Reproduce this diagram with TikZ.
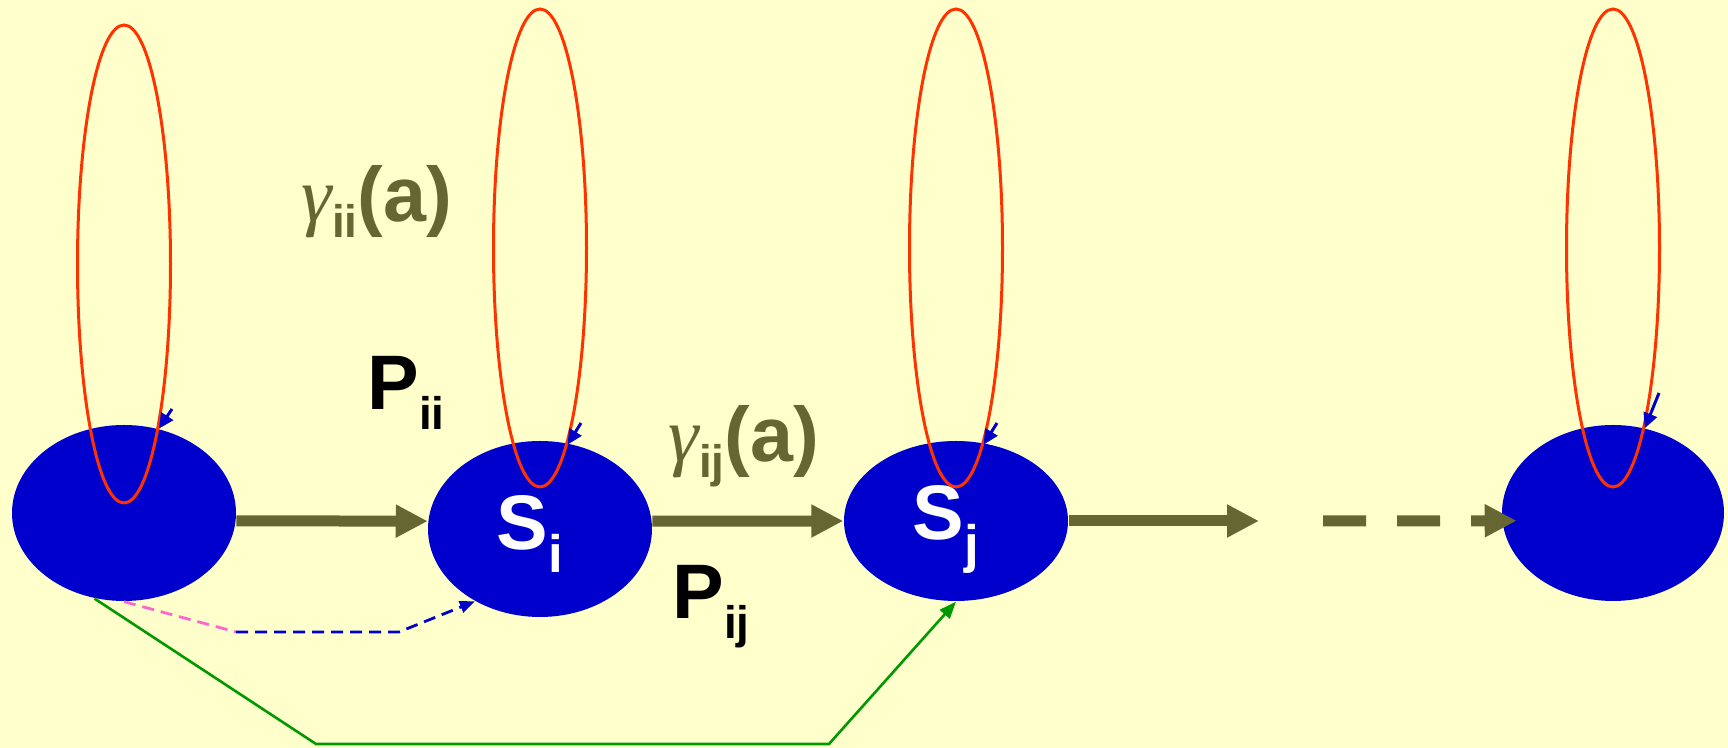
\documentclass[tikz,border=0pt]{standalone}
\usepackage{fontspec}
\setmainfont{Liberation Sans}
\newfontfamily\greekfont{Liberation Serif}
\usetikzlibrary{shapes.geometric, arrows.meta}
\definecolor{pale-bg}{HTML}{FFFFCC}
\definecolor{state-blue}{HTML}{0000CC}
\definecolor{olive-dark}{HTML}{666633}
\definecolor{loop-red}{HTML}{FF3300}
\definecolor{path-green}{HTML}{009900}
\definecolor{path-pink}{HTML}{FF66CC}
\newcommand{\lowidx}[3]{\raisebox{-#1}{\fontsize{#2}{#2}\selectfont #3}}
\newcommand{\gam}{{\greekfont\mdseries\itshape\fontsize{22}{22}\selectfont γ}}

\begin{document}
\begin{tikzpicture}[
    state/.style={ellipse, fill=state-blue, inner sep=0pt,
      minimum width=2.24cm, minimum height=1.76cm},
    selfloop/.style={ellipse, draw=loop-red, line width=0.03cm, inner sep=0pt,
      minimum width=0.93cm, minimum height=4.78cm},
    loopdir/.style={draw=state-blue, line width=0.03cm,
      -{Triangle[length=0.15cm, width=0.14cm]}},
    flow/.style={draw=olive-dark, line width=0.11cm,
      -{Triangle[length=0.32cm, width=0.31cm]}},
    lbl/.style={anchor=base west, inner sep=0pt,
      font=\bfseries\fontsize{22}{22}\selectfont}]
  \fill[pale-bg] (0,0) rectangle (17.28,7.48);
  \useasboundingbox (0,0) rectangle (17.28,7.48);

  % states
  \node[state] (s0) at (1.24, 2.35) {};
  \node[state] (si) at (5.40, 2.19) {};
  \node[state, minimum height=1.60cm] (sj) at (9.56, 2.27) {};
  \node[state, minimum width=2.22cm] (sn) at (16.13, 2.35) {};

  % self loops
  \node[selfloop] (loop0) at (1.24, 4.84) {};
  \node[selfloop] (loopi) at (5.40, 5.00) {};
  \node[selfloop] (loopj) at (9.56, 5.00) {};
  \node[selfloop] (loopn) at (16.13, 5.00) {};
  \coordinate (t0) at (1.72, 3.39);
  \coordinate (ti) at (5.81, 3.25);
  \coordinate (tj) at (9.97, 3.25);
  \coordinate (tn) at (16.59, 3.55);
  \draw[loopdir] (t0) -- (loop0.-78);
  \draw[loopdir] (ti) -- (loopi.-82);
  \draw[loopdir] (tj) -- (loopj.-82);
  \draw[loopdir] (tn) -- (loopn.-80);

  % transitions
  \coordinate (gapa) at (12.59, 2.27);
  \coordinate (gapb) at (13.23, 2.27);
  \draw[flow] (s0.-4) -- (si.176);
  \draw[flow] (si.4) -- (sj.west);
  \draw[flow] (sj.east) -- (gapa);
  \draw[flow, dash pattern=on 0.43cm off 0.31cm, shorten >=-0.15cm] (gapb) -- (sn.184);

  % paths below
  \coordinate (pk) at (2.36, 1.16);
  \draw[path-pink, line width=0.028cm, dash pattern=on 0.12cm off 0.07cm] (s0.south) -- (pk);
  \draw[state-blue, line width=0.028cm, dash pattern=on 0.12cm off 0.07cm,
    -{Triangle[length=0.15cm, width=0.12cm]}] (pk) -- (3.99, 1.16) -- (si.-132);
  \draw[path-green, line width=0.026cm, -{Triangle[length=0.17cm, width=0.13cm]}]
    (s0.-109) -- (3.16, 0.04) -- (8.29, 0.04) -- (sj.south);

  % labels
  \node[lbl, text=olive-dark] (gii) at (3.01, 5.26)
    {\gam\lowidx{0.16cm}{13}{ii}(a)};
  \node[lbl] (pii) at (3.67, 3.38) {P\lowidx{0.2cm}{13}{ii}};
  \node[lbl, text=olive-dark] (gij) at (6.68, 2.86)
    {\gam\lowidx{0.16cm}{13}{ij}(a)};
  \node[lbl] (pij) at (6.72, 1.29) {P\lowidx{0.2cm}{13}{ij}};
  \node[lbl, text=white] (labsi) at (4.96, 1.98) {S\lowidx{0.23cm}{15}{i}};
  \node[lbl, text=white] (labsj) at (9.12, 2.08) {S\lowidx{0.23cm}{15}{j}};
\end{tikzpicture}
\end{document}
